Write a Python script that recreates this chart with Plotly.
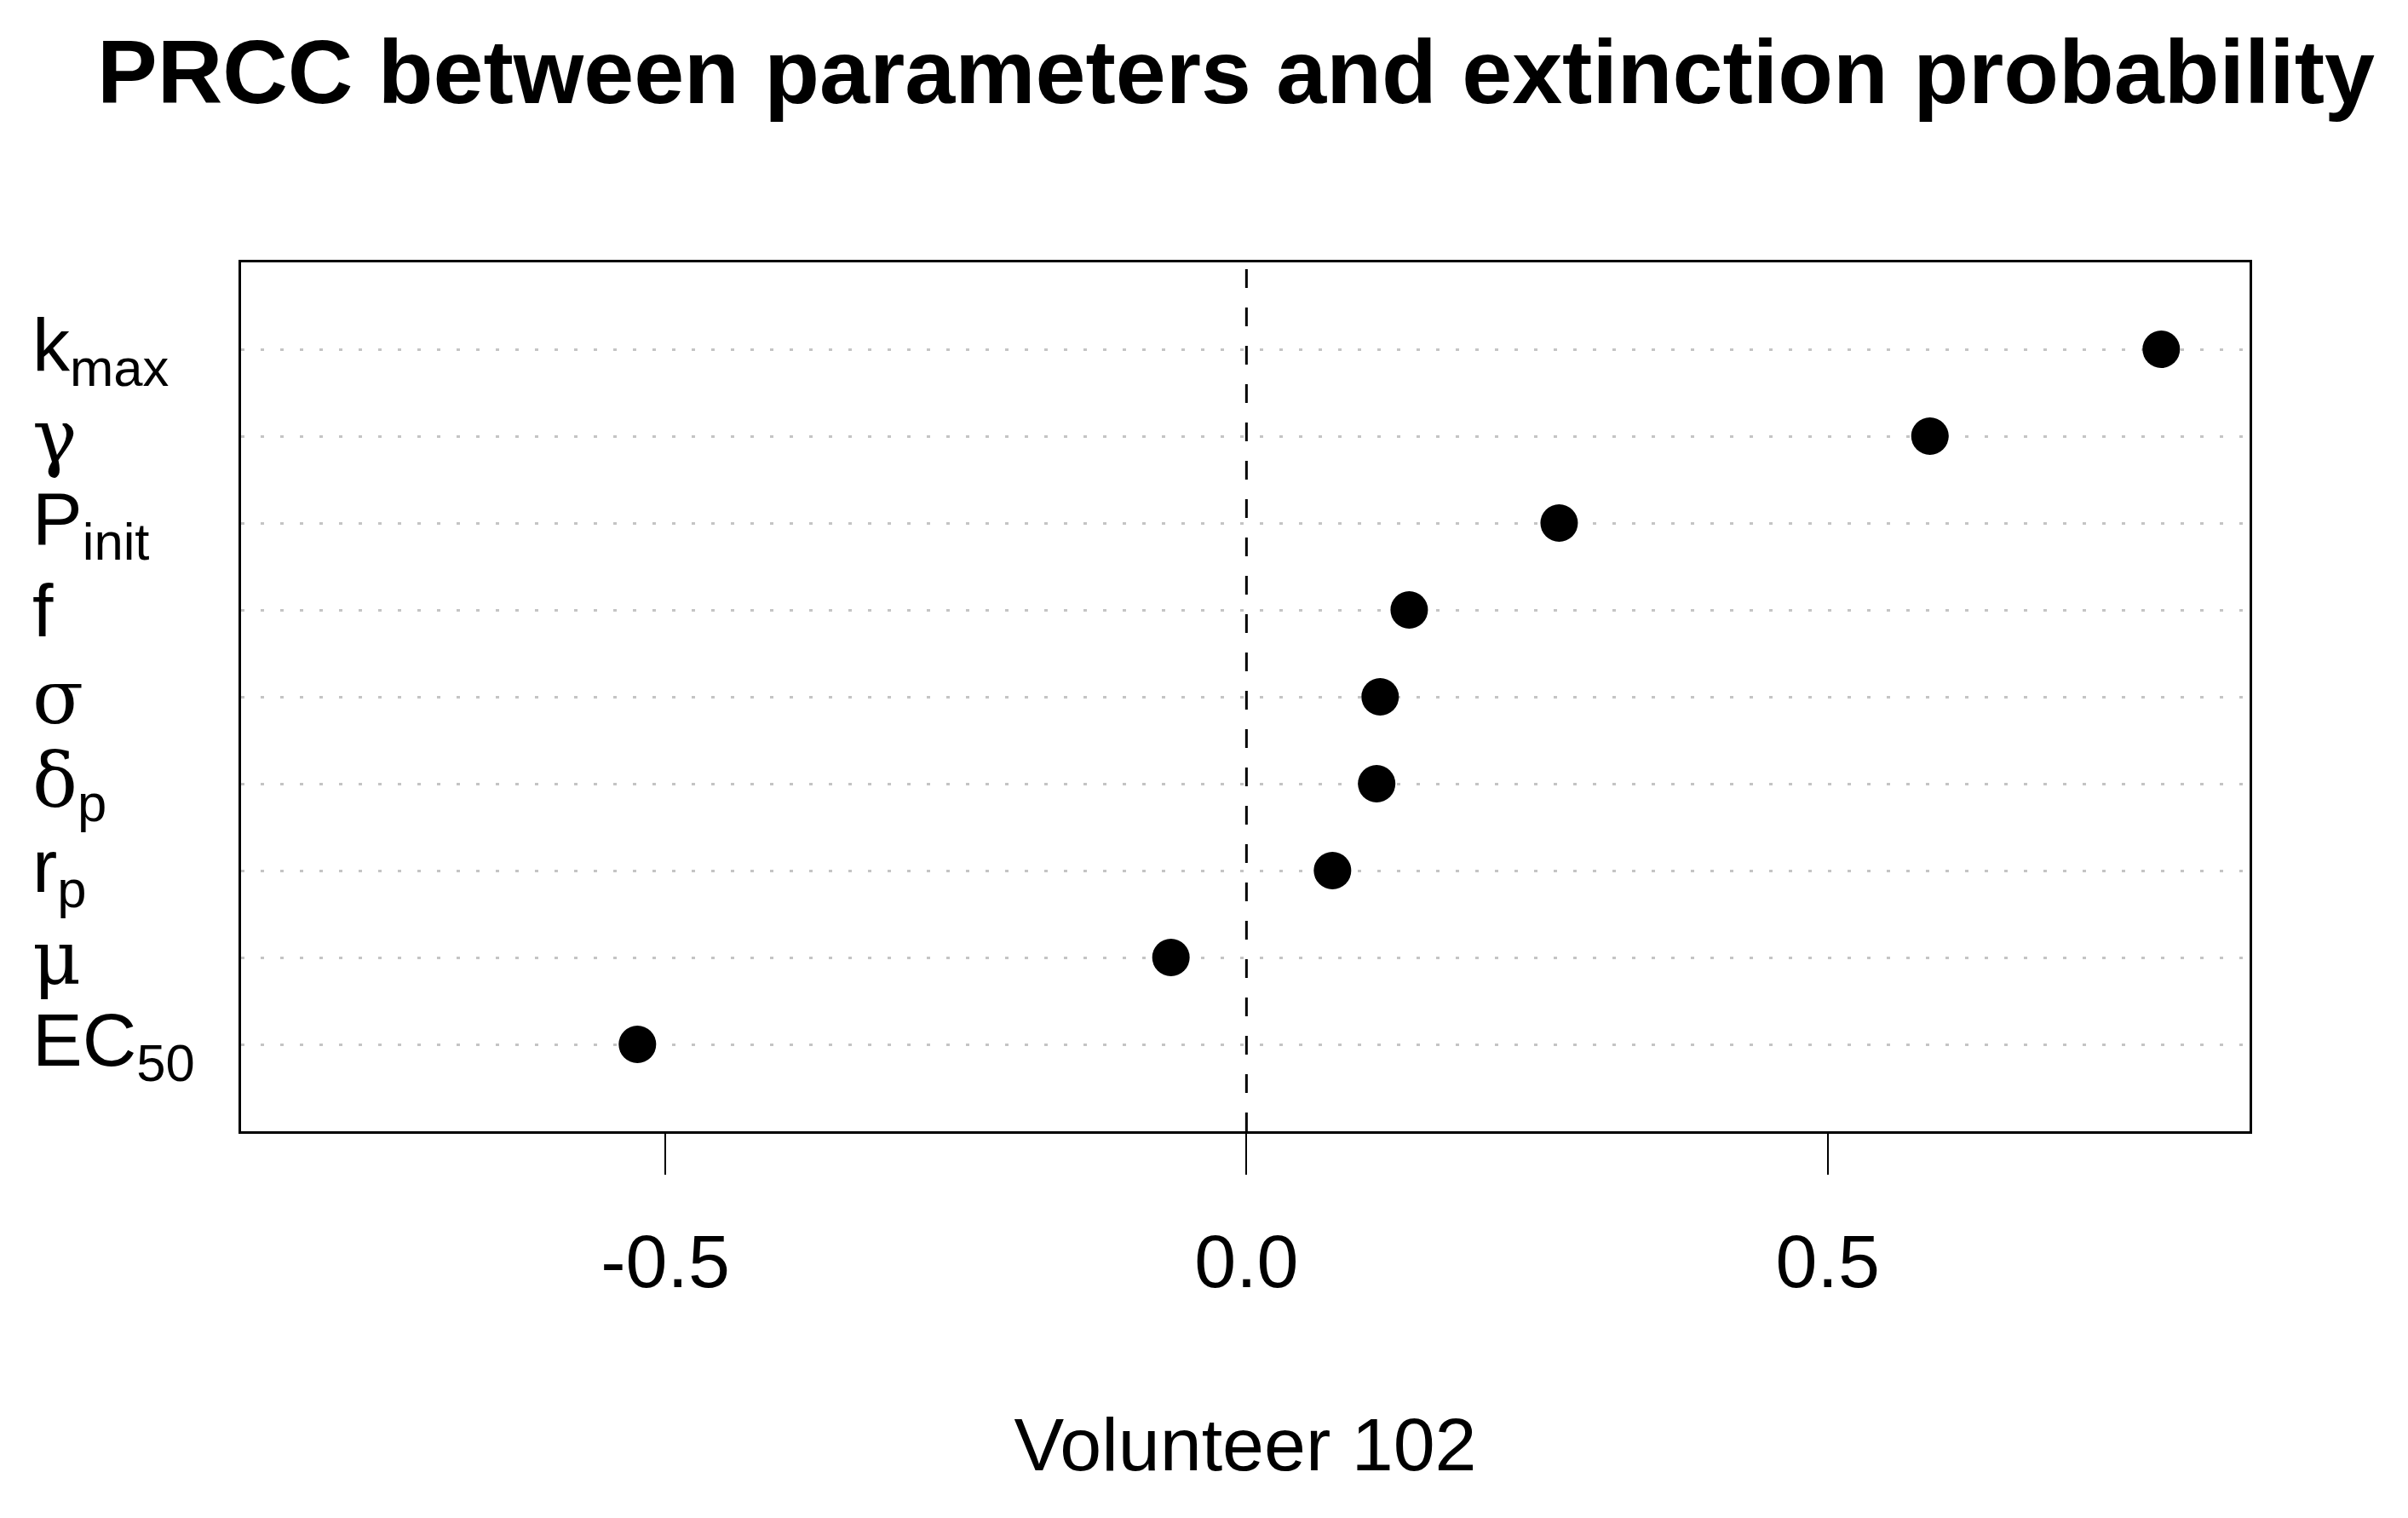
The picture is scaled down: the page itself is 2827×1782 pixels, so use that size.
import plotly.graph_objects as go

# Data (bottom to top)
params = ["EC50", "mu", "rp", "deltap", "sigma", "f", "Pinit", "gamma", "kmax"]
SER = "font-family:'DejaVu Serif','Liberation Serif',serif"
labels = ["EC<sub>50</sub>",
          f"<span style=\"{SER}\">μ</span>",
          "r<sub>p</sub>",
          f"<span style=\"{SER}\">δ</span><sub>p</sub>",
          f"<span style=\"{SER}\">σ</span>",
          "f",
          "P<sub>init</sub>",
          f"<span style=\"{SER}\">γ</span>",
          "k<sub>max</sub>"]
prcc = [-0.524, -0.065, 0.074, 0.112, 0.115, 0.140, 0.269, 0.588, 0.787]
xticks = [-0.5, 0.0, 0.5]
xticklabels = ["-0.5", "0.0", "0.5"]

FONT = "Liberation Sans, Arial, Helvetica, sans-serif"
W, H = 2827, 1782
L, R, T, B = 275, 194, 300, 462

fig = go.Figure()
fig.add_trace(go.Scatter(
    x=prcc, y=params, mode="markers",
    marker=dict(size=44, color="black", line=dict(width=0)),
    showlegend=False, hoverinfo="x+y"))

fig.add_shape(type="line", xref="x", yref="paper", x0=0, x1=0, y0=0, y1=1,
              line=dict(color="black", width=3, dash="22px,23px"), layer="above")

for p, lab in zip(params, labels):
    fig.add_annotation(xref="paper", yref="y", x=(28 - L) / (W - L - R), y=p,
                       text=lab, showarrow=False, xanchor="left", yanchor="middle",
                       font=dict(family=FONT, size=88, color="black"))

fig.update_layout(
    width=W, height=H,
    margin=dict(l=L, r=R, t=T, b=B),
    paper_bgcolor="white", plot_bgcolor="white",
    font=dict(family=FONT, color="black"),
    title=dict(text="<b>PRCC between parameters and extinction probability</b>",
               x=(L + (W - L - R) / 2 - 11) / W, xanchor="center",
               y=1 - 76 / H, yanchor="middle", yref="container",
               font=dict(family=FONT, size=106, color="black")),
    xaxis=dict(range=[-0.865, 0.863], tickvals=xticks, ticktext=xticklabels,
               ticks="outside", ticklen=48, tickwidth=2, tickcolor="black",
               tickfont=dict(family=FONT, size=88, color="black"),
               ticklabelstandoff=26,
               showline=True, linecolor="black", linewidth=3, mirror=True,
               showgrid=False, zeroline=False,
               title=dict(text="Volunteer 102", standoff=136,
                          font=dict(family=FONT, size=88, color="black"))),
    yaxis=dict(categoryorder="array", categoryarray=params, range=[-1, 9],
               showticklabels=False, ticks="",
               showline=True, linecolor="black", linewidth=3, mirror=True,
               showgrid=True, gridcolor="#c4c4c4", gridwidth=3, griddash="4px,19px",
               zeroline=False),
)

fig.write_html("out.html")
